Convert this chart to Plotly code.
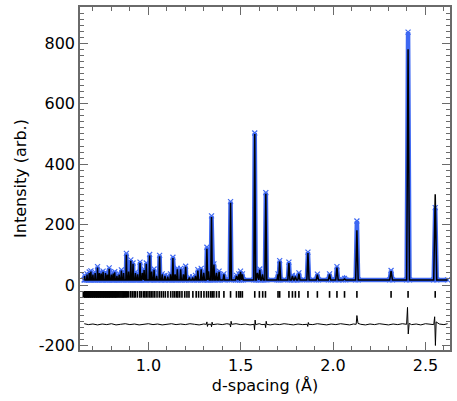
import plotly.graph_objects as go

peak_d = [0.655, 0.668, 0.680, 0.689, 0.700, 0.712, 0.725, 0.735, 0.745, 0.755,
          0.768, 0.778, 0.788, 0.800, 0.810, 0.818, 0.830, 0.842, 0.854, 0.866,
          0.881, 0.893, 0.905, 0.917, 0.930, 0.942, 0.955, 0.967, 0.977, 0.989,
          1.007, 1.018, 1.031, 1.045, 1.061, 1.075, 1.090, 1.105, 1.120, 1.133,
          1.145, 1.157, 1.175, 1.190, 1.202, 1.222, 1.240, 1.255, 1.268, 1.286,
          1.300, 1.317, 1.326, 1.342, 1.355, 1.369, 1.383, 1.409, 1.445, 1.477,
          1.490, 1.499, 1.509, 1.576, 1.590, 1.603, 1.618, 1.636, 1.702, 1.711,
          1.761, 1.780, 1.796, 1.815, 1.864, 1.915, 1.981, 2.021, 2.062, 2.129,
          2.314, 2.406, 2.553]
calc_h = [30, 35, 40, 45, 35, 40, 58, 40, 38, 44,
          40, 35, 54, 35, 38, 42, 30, 35, 48, 40,
          100, 45, 80, 70, 40, 35, 73, 40, 50, 70,
          98, 45, 50, 30, 95, 35, 30, 28, 35, 89,
          35, 52, 52, 35, 60, 25, 25, 30, 48, 52,
          40, 120, 45, 225, 68, 40, 44, 35, 272, 30,
          35, 44, 35, 500, 40, 50, 35, 302, 35, 78,
          73, 30, 28, 38, 106, 34, 35, 58, 20, 181,
          46, 780, 300]
obs_h = [32, 37, 43, 47, 37, 42, 61, 42, 40, 46,
         42, 37, 57, 37, 40, 44, 32, 37, 50, 42,
         105, 47, 83, 73, 42, 37, 76, 42, 52, 73,
         101, 47, 53, 32, 98, 37, 32, 30, 37, 92,
         37, 55, 55, 37, 62, 27, 27, 32, 51, 55,
         42, 125, 47, 229, 70, 42, 46, 37, 276, 32,
         37, 46, 37, 503, 42, 53, 37, 306, 37, 81,
         76, 32, 30, 40, 109, 36, 37, 61, 22, 212,
         48, 837, 256]
background = 17
d_start = 0.653
d_end = 2.62

# Reflection tick positions.
tick_d = [0.648, 0.652, 0.655, 0.659, 0.663, 0.666, 0.670, 0.674, 0.677, 0.681,
          0.685, 0.688, 0.692, 0.696, 0.699, 0.703, 0.707, 0.710, 0.714, 0.718,
          0.721, 0.725, 0.729, 0.732, 0.736, 0.740, 0.743, 0.747, 0.751, 0.755,
          0.758, 0.762, 0.766, 0.770, 0.773, 0.777, 0.781, 0.785, 0.788, 0.792,
          0.796, 0.800, 0.804, 0.808, 0.812, 0.816, 0.820, 0.824, 0.828, 0.832,
          0.837, 0.842, 0.847, 0.852, 0.857, 0.862, 0.866, 0.871, 0.876, 0.881,
          0.886, 0.894, 0.905, 0.914, 0.923, 0.930, 0.941, 0.954, 0.962, 0.973,
          0.981, 0.989, 0.998, 1.008, 1.016, 1.025, 1.035, 1.047, 1.059, 1.070,
          1.081, 1.092, 1.106, 1.121, 1.133, 1.143, 1.153, 1.160, 1.170, 1.182,
          1.197, 1.209, 1.220, 1.241, 1.259, 1.272, 1.286, 1.301, 1.315, 1.326,
          1.338, 1.346, 1.355, 1.369, 1.383, 1.409, 1.445, 1.477, 1.490, 1.499,
          1.509, 1.576, 1.601, 1.619, 1.634, 1.702, 1.711, 1.761, 1.780, 1.796,
          1.815, 1.864, 1.915, 1.981, 2.021, 2.062, 2.129, 2.314, 2.406, 2.553]
tick_top = -20
tick_bottom = -42

# Difference curve (obs - calc), drawn with an offset.
diff_d = [0.653, 0.675, 0.700, 0.725, 0.750, 0.775, 0.800, 0.825, 0.850, 0.875,
          0.900, 0.925, 0.950, 0.975, 1.000, 1.025, 1.050, 1.075, 1.100, 1.125,
          1.150, 1.175, 1.200, 1.225, 1.250, 1.275, 1.300, 1.314, 1.317, 1.320,
          1.323, 1.339, 1.342, 1.345, 1.348, 1.375, 1.400, 1.425, 1.442, 1.445,
          1.448, 1.451, 1.475, 1.500, 1.525, 1.550, 1.572, 1.575, 1.578, 1.581,
          1.600, 1.615, 1.632, 1.635, 1.638, 1.641, 1.660, 1.685, 1.710, 1.735,
          1.760, 1.785, 1.810, 1.835, 1.860, 1.863, 1.866, 1.869, 1.890, 1.915,
          1.940, 1.965, 1.990, 2.015, 2.040, 2.065, 2.090, 2.110, 2.125, 2.129,
          2.135, 2.150, 2.175, 2.200, 2.225, 2.250, 2.275, 2.300, 2.325, 2.350,
          2.375, 2.398, 2.403, 2.407, 2.412, 2.425, 2.450, 2.475, 2.500, 2.525,
          2.545, 2.550, 2.554, 2.558, 2.575, 2.600, 2.620]
diff_i = [-128, -131, -129, -132, -129, -131, -128, -132, -130, -128,
          -131, -129, -132, -130, -128, -131, -129, -132, -130, -128,
          -131, -129, -131, -128, -130, -132, -129, -130, -122, -137,
          -130, -130, -138, -123, -131, -129, -131, -128, -130, -139,
          -120, -130, -128, -131, -129, -132, -130, -148, -116, -131,
          -128, -131, -130, -141, -120, -130, -132, -129, -131, -128,
          -130, -132, -129, -131, -130, -137, -124, -130, -131, -128,
          -130, -132, -129, -131, -128, -130, -132, -129, -130, -101,
          -127, -130, -132, -129, -131, -128, -130, -132, -129, -131,
          -128, -130, -74, -162, -127, -131, -129, -132, -128, -130,
          -131, -105, -200, -122, -129, -131, -128]

x_tickvals = [1.0, 1.5, 2.0, 2.5]
x_ticktext = ['1.0', '1.5', '2.0', '2.5']
y_tickvals = [-200, 0, 200, 400, 600, 800]
y_ticktext = ['-200', '0', '200', '400', '600', '800']

# Build the spike profiles from the peak list.
calc_x, calc_y, obs_x, obs_y = [d_start], [background], [d_start], [background]
for d, hc, ho in zip(peak_d, calc_h, obs_h):
    w = 0.0032 * d
    calc_x += [d - w, d, d + w]
    calc_y += [background, hc, background]
    obs_x += [d - w, d, d + w]
    obs_y += [background, ho, background]
calc_x.append(d_end)
calc_y.append(background)
obs_x.append(d_end)
obs_y.append(background)

tick_x, tick_y = [], []
for d in tick_d:
    tick_x += [d, d, None]
    tick_y += [tick_top, tick_bottom, None]

blue = 'rgb(62, 104, 242)'
axis_grey = '#6a6a6a'
font = dict(family='DejaVu Sans', size=16, color='black')

data = []

# Observed data.
data.append(
    go.Scatter(
        x=obs_x,
        y=obs_y,
        mode='lines+markers',
        line=dict(color=blue, width=4.5),
        marker=dict(symbol='x-thin', size=5, line=dict(color=blue, width=1.2)),
        showlegend=False
    )
)

# Calculated profile.
data.append(
    go.Scatter(
        x=calc_x,
        y=calc_y,
        mode='lines',
        line=dict(color='black', width=1.5),
        showlegend=False
    )
)

# Reflection ticks.
data.append(
    go.Scatter(
        x=tick_x,
        y=tick_y,
        mode='lines',
        line=dict(color='black', width=1.6),
        showlegend=False
    )
)

# Difference curve.
data.append(
    go.Scatter(
        x=diff_d,
        y=diff_i,
        mode='lines',
        line=dict(color='black', width=1),
        showlegend=False
    )
)

layout = dict(
    width=457,
    height=401,
    plot_bgcolor='white',
    paper_bgcolor='white',
    margin=dict(t=5, r=6, b=51, l=80, pad=0),
    font=font,
    xaxis=dict(
        range=[0.63, 2.633],
        tickmode='array',
        tickvals=x_tickvals,
        ticktext=x_ticktext,
        ticks='inside',
        ticklen=8,
        tickwidth=1,
        tickcolor=axis_grey,
        minor=dict(tick0=0, dtick=0.1, ticks='inside', ticklen=4, tickwidth=1, tickcolor=axis_grey),
        showline=True,
        linecolor=axis_grey,
        linewidth=1.5,
        mirror='allticks',
        showgrid=False,
        zeroline=False,
        tickfont=font,
        title=dict(text='d-spacing (Å)', font=font, standoff=6),
    ),
    yaxis=dict(
        range=[-215, 920],
        tickmode='array',
        tickvals=y_tickvals,
        ticktext=y_ticktext,
        ticks='inside',
        ticklen=8,
        tickwidth=1,
        tickcolor=axis_grey,
        minor=dict(tick0=0, dtick=20, ticks='inside', ticklen=4, tickwidth=1, tickcolor=axis_grey),
        showline=True,
        linecolor=axis_grey,
        linewidth=1.5,
        mirror='allticks',
        showgrid=False,
        zeroline=False,
        tickfont=font,
        title=dict(text='Intensity (arb.)', font=font, standoff=8),
    ),
)

fig = go.Figure(data=data, layout=layout)
fig.write_html("out.html", config={'displayModeBar': False},
               post_script="document.body.style.margin = '0';")
